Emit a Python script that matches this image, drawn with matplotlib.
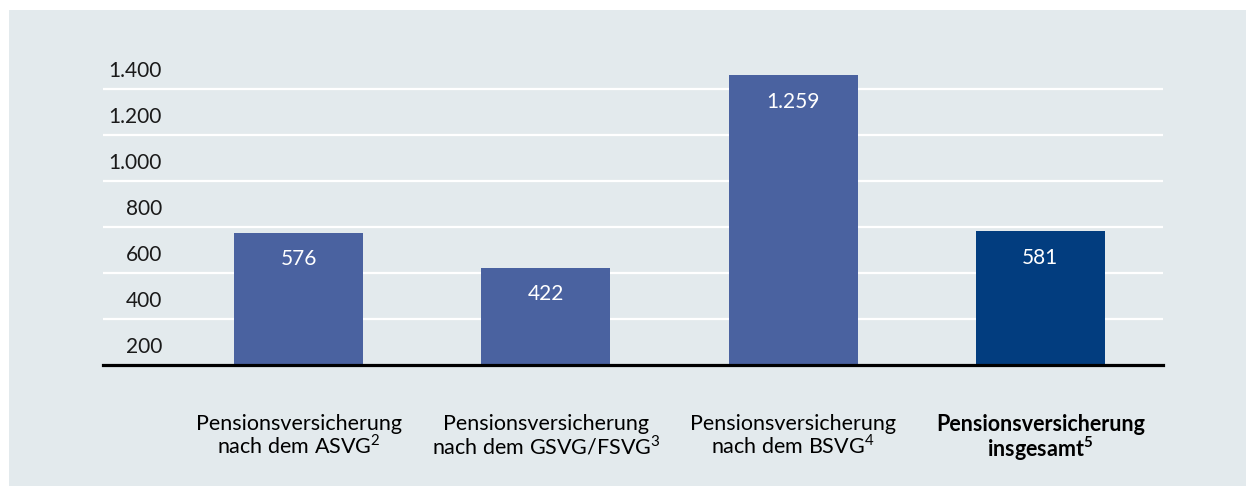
"""
Pensionsversicherung bar chart.
"""

import matplotlib
matplotlib.use('Agg')
import matplotlib.pyplot as plt
import matplotlib.transforms as mtransforms
from matplotlib.patches import Rectangle

matplotlib.rcParams.update({
    'font.family': ['Lato', 'DejaVu Sans'],
    'mathtext.fontset': 'custom',
    'mathtext.rm': 'Lato',
    'mathtext.bf': 'Lato:bold',
    'text.color': '#1a1a1a',
})

# data
categories = [
    'Pensionsversicherung\nnach dem ASVG$^{2}$',
    'Pensionsversicherung\nnach dem GSVG/FSVG$^{3}$',
    'Pensionsversicherung\nnach dem BSVG$^{4}$',
    'Pensionsversicherung\ninsgesamt$^{\\mathbf{5}}$',
]
values = [576, 422, 1259, 581]
value_labels = ['576', '422', '1.259', '581']
grid_values = [200, 400, 600, 800, 1000, 1200]
ytick_values = [200, 400, 600, 800, 1000, 1200, 1400]
ytick_labels = ['200', '400', '600', '800', '1.000', '1.200', '1.400']

BG = '#e3eaed'
BAR = '#4a62a0'
BAR_TOTAL = '#023d7f'

fig = plt.figure(figsize=(12.46, 4.86), dpi=100, facecolor='white')
fig.patches.append(Rectangle((9 / 1246, 0), 1, 1 - 10 / 486,
                             transform=fig.transFigure, facecolor=BG,
                             edgecolor='none', zorder=-10))

ax = fig.add_axes([103 / 1246, 121 / 486, 1060 / 1246, 322 / 486])
ax.set_facecolor('none')
ax.set_xlim(-0.791, 3.496)
ax.set_ylim(0, 1400)

for spine in ax.spines.values():
    spine.set_visible(False)

# gridlines
for g in grid_values:
    ax.axhline(g, color='white', lw=1.6, zorder=0)
ax.axhline(0, color='black', lw=2.3, zorder=3, clip_on=False)

x = range(len(values))
colors = [BAR] * (len(values) - 1) + [BAR_TOTAL]
bars = ax.bar(x, values, width=0.522, color=colors, zorder=2)

for xi, v, lab in zip(x, values, value_labels):
    ax.annotate(lab, (xi, v), xytext=(0, -19), textcoords='offset points',
                ha='center', va='center', color='white', fontsize=15)

# y labels sit between the gridlines
trans = mtransforms.blended_transform_factory(ax.transAxes, ax.transData)
for v, lab in zip(ytick_values, ytick_labels):
    ax.text(0.0557, v - 122, lab, transform=trans, ha='right',
            va='center', fontsize=15)

ax.set_yticks([])
ax.set_xticks(list(x))
ax.set_xticklabels(categories, fontsize=15.5, linespacing=1.0)
ax.tick_params(axis='x', length=0, pad=35)
ax.get_xticklabels()[-1].set_fontweight('bold')

fig.savefig('out.png', dpi=100, facecolor='white')
